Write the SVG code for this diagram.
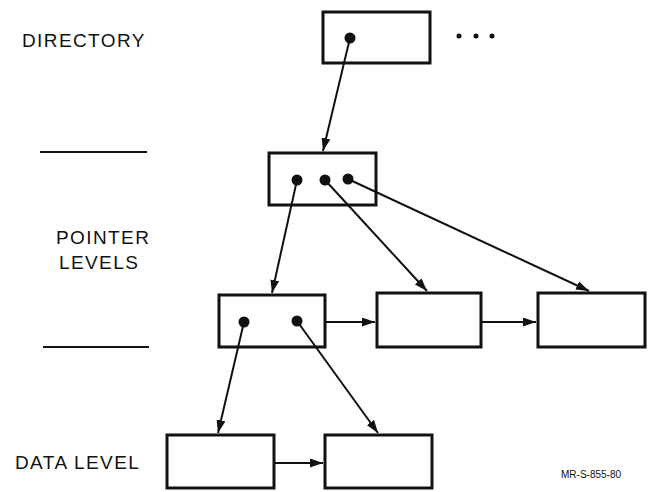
<svg xmlns="http://www.w3.org/2000/svg" width="648" height="492" viewBox="0 0 648 492">
  <defs>
    <marker id="arrow" viewBox="0 0 13 9" refX="13" refY="4.5" markerWidth="13" markerHeight="9" markerUnits="userSpaceOnUse" orient="auto">
      <path d="M0,0 L13,4.5 L0,9 Z" fill="#111"/>
    </marker>
  </defs>
  <style>
    .box { fill: #fff; stroke: #111; stroke-width: 3; }
    .dot { fill: #111; }
    .edge { stroke: #111; stroke-width: 2; fill: none; marker-end: url(#arrow); }
    .rule { stroke: #111; stroke-width: 2; }
    .label { font-family: "Liberation Sans", Arial, sans-serif; font-size: 19px; letter-spacing: 1.4px; fill: #111; }
    .code { font-family: "Liberation Sans", Arial, sans-serif; font-size: 10px; fill: #111; }
  </style>
  <rect width="648" height="492" fill="#fff"/>

  <!-- level labels and separators -->
  <text class="label" x="22" y="47">DIRECTORY</text>
  <line class="rule" x1="40" y1="152" x2="147" y2="152"/>
  <text class="label" x="56" y="244">POINTER</text>
  <text class="label" x="59" y="269">LEVELS</text>
  <line class="rule" x1="43" y1="347" x2="149" y2="347"/>
  <text class="label" x="15" y="469">DATA LEVEL</text>
  <text class="code" x="561" y="478">MR-S-855-80</text>

  <!-- nodes -->
  <g id="directory">
    <rect class="box" x="323" y="12" width="107" height="51"/>
    <circle class="dot" cx="350" cy="38" r="5.5"/>
    <circle class="dot" cx="459" cy="36" r="2.5"/>
    <circle class="dot" cx="476" cy="36" r="2.5"/>
    <circle class="dot" cx="492" cy="36" r="2.5"/>
  </g>
  <g id="ptr-top">
    <rect class="box" x="269" y="153" width="107" height="52"/>
    <circle class="dot" cx="297" cy="180" r="5.5"/>
    <circle class="dot" cx="325" cy="180" r="5.5"/>
    <circle class="dot" cx="348" cy="179" r="5.5"/>
  </g>
  <g id="ptr-a">
    <rect class="box" x="219" y="295" width="106" height="52"/>
    <circle class="dot" cx="244" cy="322" r="5.5"/>
    <circle class="dot" cx="297" cy="321" r="5.5"/>
  </g>
  <g id="ptr-b">
    <rect class="box" x="377" y="293" width="104" height="54"/>
  </g>
  <g id="ptr-c">
    <rect class="box" x="538" y="293" width="107" height="54"/>
  </g>
  <g id="data-a">
    <rect class="box" x="167" y="435" width="107" height="53"/>
  </g>
  <g id="data-b">
    <rect class="box" x="325" y="435" width="107" height="53"/>
  </g>

  <!-- connectors -->
  <g id="connectors">
    <line class="edge" x1="350" y1="38" x2="323" y2="151"/>
    <line class="edge" x1="297" y1="180" x2="272" y2="293"/>
    <line class="edge" x1="325" y1="180" x2="427" y2="291"/>
    <line class="edge" x1="348" y1="179" x2="589" y2="291"/>
    <line class="edge" x1="325" y1="322" x2="375" y2="322"/>
    <line class="edge" x1="481" y1="322" x2="536" y2="322"/>
    <line class="edge" x1="244" y1="322" x2="218" y2="433"/>
    <line class="edge" x1="297" y1="321" x2="378" y2="433"/>
    <line class="edge" x1="274" y1="463" x2="323" y2="463"/>
  </g>
</svg>
